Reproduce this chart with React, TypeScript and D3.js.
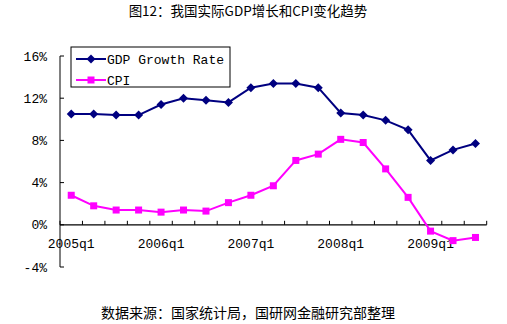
import React from "react";
import * as d3 from "d3";

const categories = ["2005q1","2005q2","2005q3","2005q4","2006q1","2006q2","2006q3","2006q4","2007q1","2007q2","2007q3","2007q4","2008q1","2008q2","2008q3","2008q4","2009q1","2009q2","2009q3"];
const gdpGrowth = [10.5,10.5,10.4,10.4,11.4,12.0,11.8,11.6,13.0,13.4,13.4,13.0,10.6,10.4,9.9,9.0,6.1,7.1,7.7];
const cpi = [2.8,1.8,1.4,1.4,1.2,1.4,1.3,2.1,2.8,3.7,6.1,6.7,8.1,7.8,5.3,2.6,-0.6,-1.5,-1.2];
const yTicks = [-4,0,4,8,12,16];
const xLabels = ["2005q1","2006q1","2007q1","2008q1","2009q1"];
const seriesNames = ["GDP Growth Rate","CPI"];
const title = "图12：我国实际GDP增长和CPI变化趋势";
const source = "数据来源：国家统计局，国研网金融研究部整理";

const W = 507, H = 324;
const left = 60, right = 486.7, top = 56, bottom = 267;
const NAVY = "#000080", MAG = "#FF00FF";
const monoFont = "'Liberation Mono', 'DejaVu Sans Mono', monospace";
const cjkFont = "'Noto Sans CJK SC', sans-serif";

export default function App() {
  const x = d3.scaleBand<string>().domain(categories).range([left, right]);
  const y = d3.scaleLinear().domain([-4, 16]).range([bottom, top]);
  const cx = (c: string) => (x(c) as number) + x.bandwidth() / 2;
  const line = d3.line<number>().x((_, i) => cx(categories[i])).y(d => y(d));
  const y0 = y(0);
  const bounds = [...categories.map(c => x(c) as number), right];

  return (
    <svg width={W} height={H} style={{ position: "absolute", left: 0, top: 0 }}>
      <rect width={W} height={H} fill="#fff" />
      <text x={248} y={16} textAnchor="middle" fontFamily={cjkFont} fontSize={13.5} fill="#000">{title}</text>
      {/* y axis */}
      <line x1={left} x2={left} y1={top} y2={bottom} stroke="#000" strokeWidth={1} />
      {yTicks.map(t => (
        <g key={t}>
          <line x1={left} x2={left + 4} y1={y(t)} y2={y(t)} stroke="#000" />
          <text x={47} y={y(t)} dy="0.35em" textAnchor="end" fontFamily={monoFont} fontSize={13} fill="#000">{t}%</text>
        </g>
      ))}
      {/* x axis at 0 */}
      <line x1={left} x2={right} y1={y0} y2={y0} stroke="#000" strokeWidth={1.2} />
      {bounds.map((b, i) => (
        <line key={i} x1={b} x2={b} y1={y0} y2={y0 - 4} stroke="#000" />
      ))}
      {xLabels.map(l => (
        <text key={l} x={cx(l)} y={248} textAnchor="middle" fontFamily={monoFont} fontSize={13} fill="#000">{l}</text>
      ))}
      {/* GDP */}
      <path d={line(gdpGrowth) || ""} fill="none" stroke={NAVY} strokeWidth={2} />
      {gdpGrowth.map((v, i) => (
        <path key={i} d="M0,-4.5L4.5,0L0,4.5L-4.5,0Z" transform={`translate(${cx(categories[i])},${y(v)})`} fill={NAVY} />
      ))}
      {/* CPI */}
      <path d={line(cpi) || ""} fill="none" stroke={MAG} strokeWidth={2} />
      {cpi.map((v, i) => (
        <rect key={i} x={cx(categories[i]) - 3.5} y={y(v) - 3.5} width={7} height={7} fill={MAG} />
      ))}
      {/* legend */}
      <rect x={71} y={47} width={159} height={40} fill="#fff" stroke="#000" strokeWidth={1} />
      <line x1={76} x2={106} y1={59} y2={59} stroke={NAVY} strokeWidth={2} />
      <path d="M0,-4.5L4.5,0L0,4.5L-4.5,0Z" transform="translate(91,59)" fill={NAVY} />
      <text x={107} y={59} dy="0.35em" fontFamily={monoFont} fontSize={13} fill="#000">{seriesNames[0]}</text>
      <line x1={76} x2={106} y1={80} y2={80} stroke={MAG} strokeWidth={2} />
      <rect x={87.5} y={76.5} width={7} height={7} fill={MAG} />
      <text x={107} y={80} dy="0.35em" fontFamily={monoFont} fontSize={13} fill="#000">{seriesNames[1]}</text>
      <text x={248} y={318} textAnchor="middle" fontFamily={cjkFont} fontSize={14} fill="#000">{source}</text>
    </svg>
  );
}
